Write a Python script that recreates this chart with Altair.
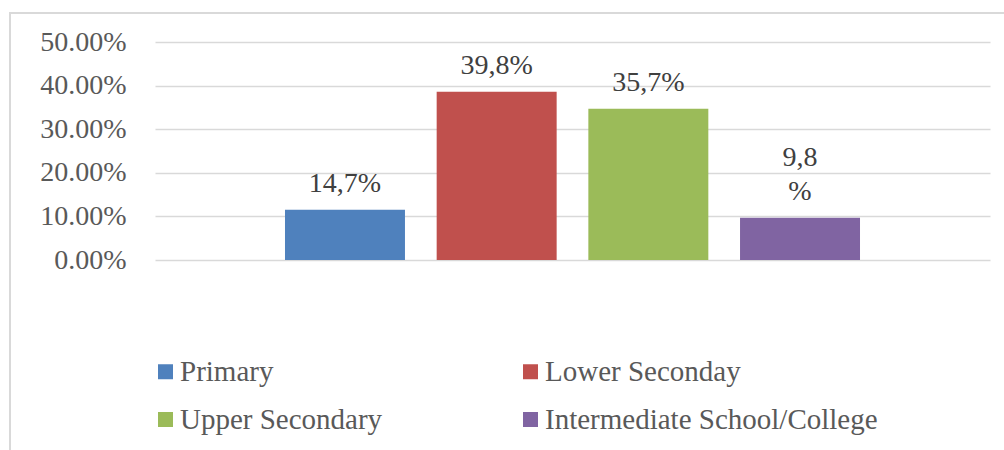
import altair as alt
import pandas as pd

categories = ["Primary", "Lower Seconday", "Upper Secondary", "Intermediate School/College"]
values = [0.115, 0.386, 0.347, 0.097]
labels = ["14,7%", "39,8%", "35,7%", "9,8\n%"]
colors = ["#4F81BD", "#C0504D", "#9BBB59", "#8064A2"]

df = pd.DataFrame({"cat": categories, "val": values, "lab": labels})
df["lines"] = df["lab"].str.count("\n") + 1

FONT = "Liberation Serif"

x_enc = alt.X("cat:N", sort=categories, axis=None,
              scale=alt.Scale(paddingInner=0.209, paddingOuter=0.857))
y_enc = alt.Y("val:Q",
              scale=alt.Scale(domain=[0, 0.5], nice=False),
              axis=alt.Axis(values=[0, 0.1, 0.2, 0.3, 0.4, 0.5], format=".2%",
                            title=None, domain=False, ticks=False,
                            labelFont=FONT, labelFontSize=28, labelColor="#595959",
                            labelPadding=29, gridColor="#d9d9d9", gridWidth=1.5))

frame = alt.Chart(df).mark_rect(fill=None, stroke="#d9d9d9", strokeWidth=2).encode(
    x=alt.value(-145), x2=alt.value(900), y=alt.value(-29), y2=alt.value(500)
)

bars = alt.Chart(df).mark_bar().encode(
    x=x_enc,
    y=y_enc,
    color=alt.Color("cat:N", sort=categories,
                    scale=alt.Scale(domain=categories, range=colors),
                    legend=alt.Legend(orient="none", legendX=-4, legendY=315,
                                      columns=2, direction="horizontal", title=None,
                                      symbolType="square", symbolSize=225,
                                      symbolStrokeWidth=0, labelFont=FONT,
                                      labelFontSize=29, labelColor="#595959",
                                      labelOffset=0, labelLimit=500,
                                      rowPadding=18, columnPadding=133, padding=0)),
)

def label_layer(n, dy):
    return alt.Chart(df).transform_filter(alt.datum.lines == n).mark_text(
        font=FONT, fontSize=28, color="#404040", baseline="bottom", dy=dy,
        lineBreak="\n", lineHeight=34).encode(
        x=alt.X("cat:N", sort=categories), y="val:Q", text="lab:N"
    )

text1 = label_layer(1, -12)
text2 = label_layer(2, -46)

chart = alt.layer(frame, bars, text1, text2).properties(
    width=835, height=218,
    padding={"left": 155, "top": 42, "right": 14, "bottom": 190},
    autosize="none",
).configure_view(stroke=None)

chart.save("out.html", embed_options={"renderer": "svg", "actions": False})
